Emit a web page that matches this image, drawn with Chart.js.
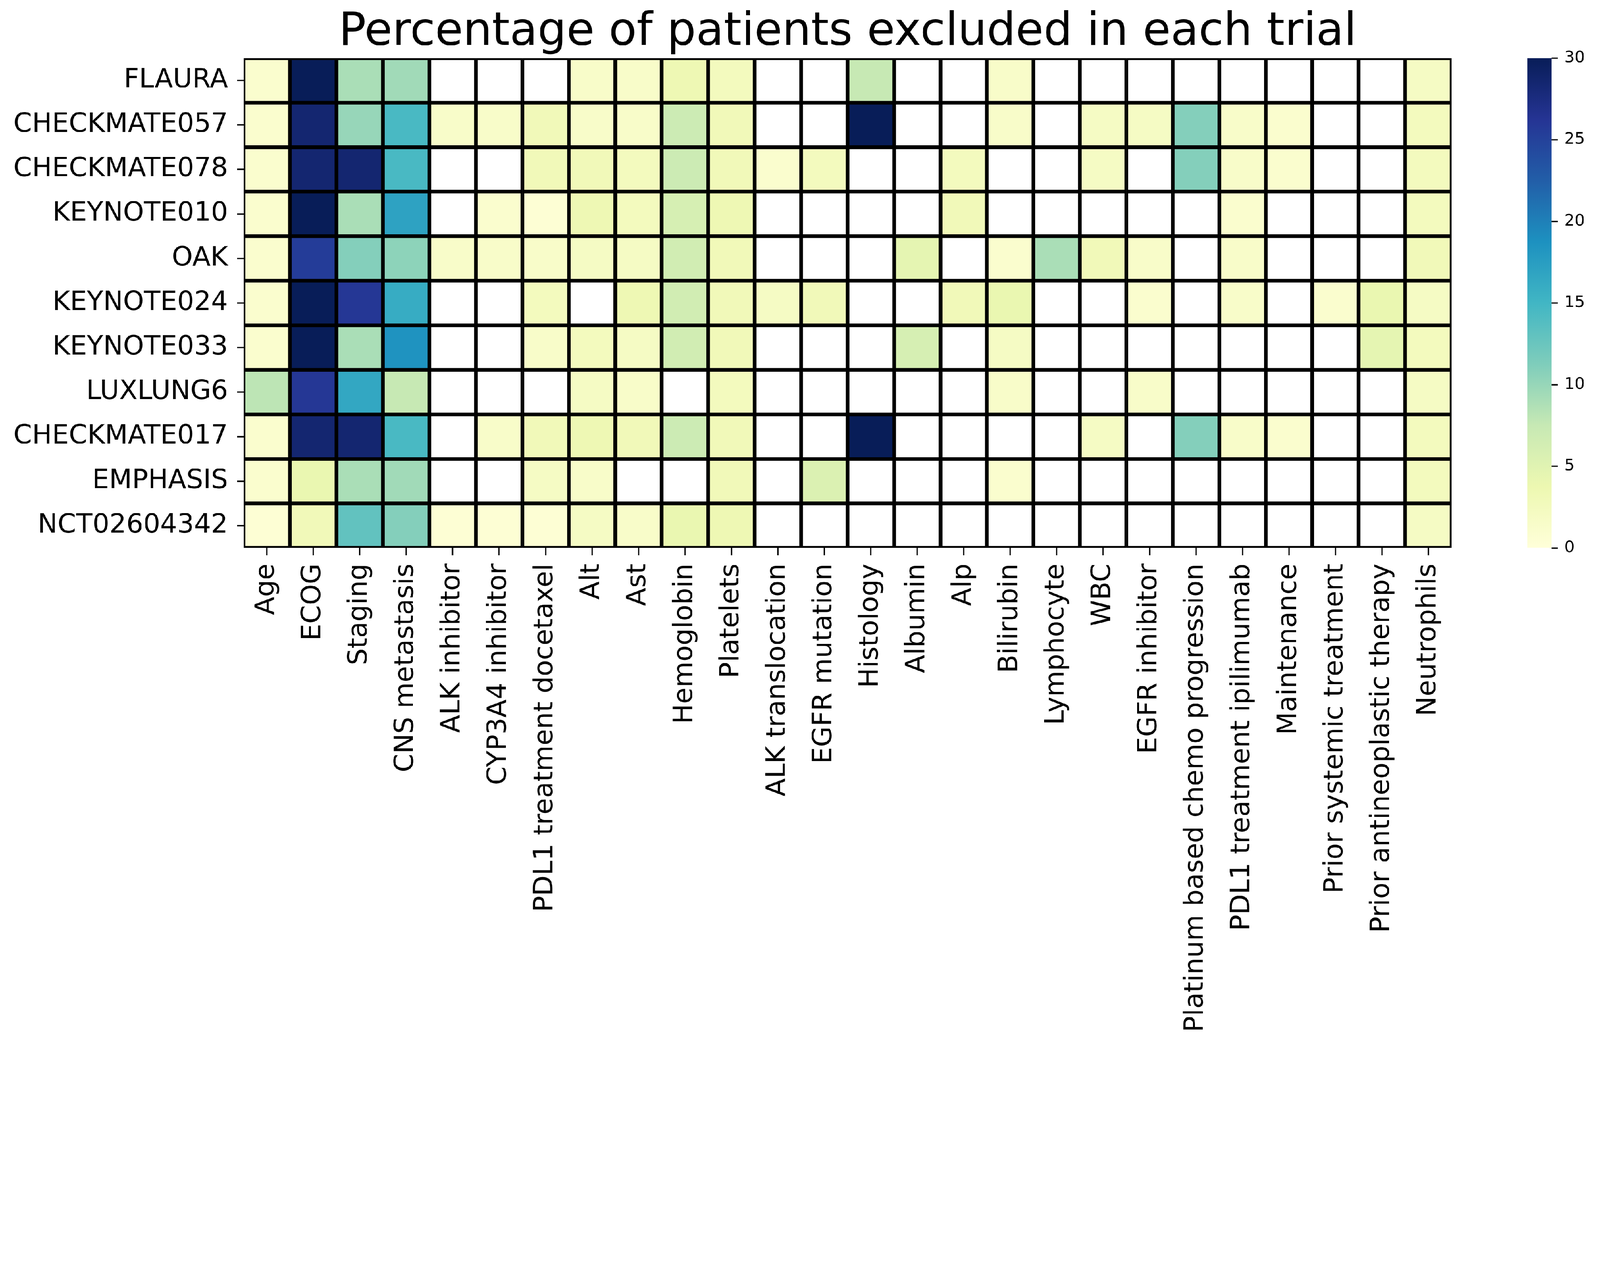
<!DOCTYPE html>
<html>
<head>
<meta charset="utf-8">
<script src="https://cdn.jsdelivr.net/npm/chart.js@4.4.1/dist/chart.umd.min.js"></script>
<style>
  html, body { margin: 0; padding: 0; background: #ffffff; overflow: hidden; }
  #wrap { position: relative; width: 4927px; height: 3237px; transform-origin: 0 0; }
  #heat { position: absolute; left: 0; top: 0; width: 4927px; height: 3237px; }
  #cbar { position: absolute; left: 4703px; top: 0; width: 224px; height: 3237px; }
</style>
</head>
<body>
<div id="wrap">
  <canvas id="heat" width="4927" height="3237"></canvas>
  <canvas id="cbar" width="224" height="3237"></canvas>
</div>
<script>
// fit the 4927-wide drawing into whatever viewport we get
const wrap = document.getElementById('wrap');
wrap.style.transform = `scale(${window.innerWidth / 4927})`;

// trials (rows) and exclusion criteria (columns)
const trials = ['FLAURA', 'CHECKMATE057', 'CHECKMATE078', 'KEYNOTE010', 'OAK', 'KEYNOTE024',
  'KEYNOTE033', 'LUXLUNG6', 'CHECKMATE017', 'EMPHASIS', 'NCT02604342'];
const criteria = ['Age', 'ECOG', 'Staging', 'CNS metastasis', 'ALK inhibitor', 'CYP3A4 inhibitor',
  'PDL1 treatment docetaxel', 'Alt', 'Ast', 'Hemoglobin', 'Platelets', 'ALK translocation',
  'EGFR mutation', 'Histology', 'Albumin', 'Alp', 'Bilirubin', 'Lymphocyte', 'WBC', 'EGFR inhibitor',
  'Platinum based chemo progression', 'PDL1 treatment ipilimumab', 'Maintenance',
  'Prior systemic treatment', 'Prior antineoplastic therapy', 'Neutrophils'];

// percentage excluded, null = criterion not used in that trial
const flaura       = [1, 30, 9, 9.5, null, null, null, 1.5, 1.5, 3.5, 2.5, null, null, 7.5, null, null, 1.5, null, null, null, null, null, null, null, null, 2];
const checkmate057 = [1, 28.5, 10, 14.5, 1.5, 1.5, 3, 1.5, 1.5, 7, 3, null, null, 30, null, null, 1.5, null, 2, 2, 11, 1.5, 1, null, null, 2.5];
const checkmate078 = [1, 28.5, 28.5, 14.5, null, null, 3, 3, 2.5, 7, 3, 1, 2.5, null, null, 2.5, null, null, 2, null, 11, 1.5, 1, null, null, 2.5];
const keynote010   = [1, 30, 9, 17, null, 1, 0.5, 3.5, 2.5, 6, 3.5, null, null, null, null, 3, null, null, null, null, null, 1, null, null, null, 2.5];
const oak          = [1, 25.5, 11, 10.5, 1.5, 1.5, 1.5, 2, 2, 6.5, 3, null, null, null, 4.5, null, 1, 9, 3, 1.5, null, 1.5, null, null, null, 3];
const keynote024   = [1, 30, 26, 16, null, null, 2.5, null, 3.5, 6.5, 3, 2, 3, null, null, 3, 4, null, null, 1, null, 1.5, null, 1, 4, 2];
const keynote033   = [1, 30, 9, 18.5, null, null, 1.5, 2.5, 2, 6.5, 3, null, null, null, 6, null, 2, null, null, null, null, null, null, null, 4.5, 2.5];
const luxlung6     = [8, 26, 16.5, 7.5, null, null, null, 2, 1.5, null, 2.5, null, null, null, null, null, 1.5, null, null, 1.5, null, null, null, null, null, 2];
const checkmate017 = [1, 28.5, 28.5, 14.5, null, 1.5, 3, 3.5, 3, 7, 3, null, null, 30, null, null, null, null, 2, null, 11, 1.5, 1, null, null, 2.5];
const emphasis     = [1, 4, 9, 9.5, null, null, 2, 1.5, null, null, 3, null, 5.5, null, null, null, 1, null, null, null, null, null, null, null, null, 2.5];
const nct02604342  = [0.5, 3, 13, 11, 0.5, 0.5, 0.5, 2, 1.5, 4, 3.5, null, null, null, null, null, null, null, null, null, null, null, null, null, null, 2];

const rows = [flaura, checkmate057, checkmate078, keynote010, oak, keynote024,
  keynote033, luxlung6, checkmate017, emphasis, nct02604342];

const vmin = 0, vmax = 30;
const cbarTicks = [0, 5, 10, 15, 20, 25, 30];

// YlGnBu
const ylgnbu = ['#ffffd9', '#edf8b1', '#c7e9b4', '#7fcdbb', '#41b6c4', '#1d91c0', '#225ea8', '#253494', '#081d58'];

function hexToRgb(h) {
  return [parseInt(h.slice(1, 3), 16), parseInt(h.slice(3, 5), 16), parseInt(h.slice(5, 7), 16)];
}

function cmap(v) {
  if (v === null) return '#ffffff';
  let t = (v - vmin) / (vmax - vmin);
  t = Math.max(0, Math.min(1, t));
  const pos = t * (ylgnbu.length - 1);
  const i = Math.min(Math.floor(pos), ylgnbu.length - 2);
  const f = pos - i;
  const a = hexToRgb(ylgnbu[i]), b = hexToRgb(ylgnbu[i + 1]);
  const c = a.map((x, k) => Math.round(x + (b[k] - x) * f));
  return `rgb(${c[0]}, ${c[1]}, ${c[2]})`;
}

const font = 'DejaVu Sans';

const heatChart = new Chart(document.getElementById('heat'), {
  type: 'bar',
  data: {
    labels: criteria,
    datasets: rows.map((vals, i) => ({
      label: trials[i],
      data: vals.map(() => [i, i + 1]),
      backgroundColor: vals.map(cmap),
      borderColor: '#000000',
      borderWidth: 6,
      borderSkipped: false,
      grouped: false,
      barPercentage: 1,
      categoryPercentage: 1
    }))
  },
  options: {
    responsive: false,
    devicePixelRatio: 1,
    animation: false,
    layout: { padding: { left: 0, right: 4927 - 4470, top: 0, bottom: 0 } },
    plugins: {
      legend: { display: false },
      tooltip: { enabled: false },
      title: {
        display: true,
        fullSize: false,
        text: 'Percentage of patients excluded in each trial',
        color: '#000000',
        font: { family: font, size: 140, weight: 'normal', lineHeight: 1.1 },
        padding: { top: 25, bottom: 0 }
      }
    },
    scales: {
      x: {
        type: 'category',
        offset: true,
        grid: { offset: false, drawOnChartArea: false, drawTicks: true, tickLength: 22, tickWidth: 4, tickColor: '#000000' },
        border: { display: false },
        ticks: {
          autoSkip: false,
          minRotation: 90,
          maxRotation: 90,
          padding: 26,
          color: '#000000',
          font: { family: font, size: 82 }
        },
        afterFit: (s) => { s.height = 3237 - 1688; }
      },
      y: {
        type: 'linear',
        reverse: true,
        min: 0,
        max: trials.length,
        grid: { drawOnChartArea: false, drawTicks: true, tickLength: 20, tickWidth: 4, tickColor: '#000000' },
        border: { display: false },
        afterBuildTicks: (axis) => { axis.ticks = trials.map((_, i) => ({ value: i + 0.5 })); },
        ticks: {
          autoSkip: false,
          padding: 28,
          color: '#000000',
          font: { family: font, size: 82 },
          callback: (v) => trials[Math.round(v - 0.5)]
        },
        afterFit: (s) => { s.width = 750; }
      }
    }
  }
});

// colour bar
const cbarChart = new Chart(document.getElementById('cbar'), {
  type: 'bar',
  data: {
    labels: [''],
    datasets: [{
      data: [[vmin, vmax]],
      backgroundColor: (ctx) => {
        const area = ctx.chart.chartArea;
        if (!area) return ylgnbu[0];
        const g = ctx.chart.ctx.createLinearGradient(0, area.bottom, 0, area.top);
        ylgnbu.forEach((c, i) => g.addColorStop(i / (ylgnbu.length - 1), c));
        return g;
      },
      borderWidth: 0,
      barPercentage: 1,
      categoryPercentage: 1
    }]
  },
  options: {
    responsive: false,
    devicePixelRatio: 1,
    animation: false,
    layout: { padding: { left: 0, right: 0, top: 179, bottom: 3237 - 1688 } },
    plugins: { legend: { display: false }, tooltip: { enabled: false } },
    scales: {
      x: { display: false },
      y: {
        position: 'right',
        min: vmin,
        max: vmax,
        afterBuildTicks: (axis) => { axis.ticks = cbarTicks.map(v => ({ value: v })); },
        grid: { drawOnChartArea: false, drawTicks: true, tickLength: 19, tickWidth: 4, tickColor: '#000000' },
        border: { display: false },
        ticks: { padding: 20, color: '#000000', font: { family: font, size: 50 } },
        afterFit: (s) => { s.width = 224 - 75; }
      }
    }
  }
});
</script>
</body>
</html>
